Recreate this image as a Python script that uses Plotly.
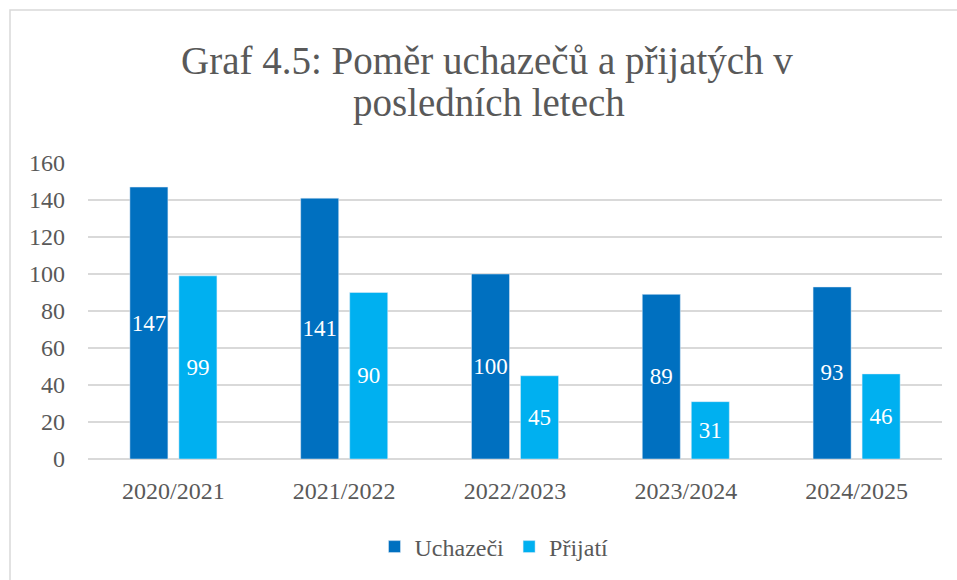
import plotly.graph_objects as go

categories = ["2020/2021", "2021/2022", "2022/2023", "2023/2024", "2024/2025"]
uchazeci = [147, 141, 100, 89, 93]
prijati = [99, 90, 45, 31, 46]
y_ticks = [0, 20, 40, 60, 80, 100, 120, 140, 160]

FONT = "Liberation Serif"
TXT = "#595959"

fig = go.Figure()
fig.add_trace(go.Bar(name="Uchazeči", x=categories, y=uchazeci, marker_color="#0070C0",
                     text=uchazeci, textposition="inside", insidetextanchor="middle",
                     textfont=dict(color="white", size=23, family=FONT), textangle=0))
fig.add_trace(go.Bar(name="Přijatí", x=categories, y=prijati, marker_color="#00B0F0",
                     text=prijati, textposition="inside", insidetextanchor="middle",
                     textfont=dict(color="white", size=23, family=FONT), textangle=0))

L, R, T, B = 88, 15, 163, 121
W, H = 957, 580
pw, ph = W - L - R, H - T - B

fig.update_layout(
    width=W, height=H,
    margin=dict(l=L, r=R, t=T, b=B, autoexpand=False),
    paper_bgcolor="white", plot_bgcolor="white",
    barmode="group", bargap=0.426, bargroupgap=0.224,
    font=dict(family=FONT, color=TXT, size=24),
    showlegend=True,
    legend=dict(orientation="h", xref="container", x=494 / W, xanchor="center",
                yref="container", y=1 - 547 / H, yanchor="middle",
                font=dict(size=24, family=FONT, color=TXT),
                traceorder="normal"),
    xaxis=dict(showgrid=False, showline=False, ticks="", tickfont=dict(size=24),
               ticklabelstandoff=15),
    yaxis=dict(range=[0, 160], tickvals=y_ticks, showgrid=True, gridcolor="#D9D9D9",
               gridwidth=1.5, zeroline=True, zerolinecolor="#D9D9D9", zerolinewidth=1.5,
               ticks="", tickfont=dict(size=24), ticklabelstandoff=22),
    annotations=[
        dict(text="Graf 4.5: Poměr uchazečů a přijatých v", xref="paper", yref="paper",
             x=(487 - L) / pw, y=((H - B) - 61) / ph, xanchor="center", yanchor="middle",
             showarrow=False, font=dict(family=FONT, size=39, color=TXT)),
        dict(text="posledních letech", xref="paper", yref="paper",
             x=(489 - L) / pw, y=((H - B) - 103) / ph, xanchor="center", yanchor="middle",
             showarrow=False, font=dict(family=FONT, size=39, color=TXT)),
    ],
    shapes=[dict(type="rect", xref="paper", yref="paper",
                 x0=(10 - L) / pw, x1=(W + 20 - L) / pw,
                 y0=-(H + 20 - (H - B)) / ph, y1=((H - B) - 10) / ph,
                 line=dict(color="#D9D9D9", width=1.5), fillcolor="rgba(0,0,0,0)", layer="below")],
)
fig.update_traces(cliponaxis=False, constraintext="none")

fig.write_html("out.html", config={"displayModeBar": False},
               post_script="document.body.style.margin='0';")
